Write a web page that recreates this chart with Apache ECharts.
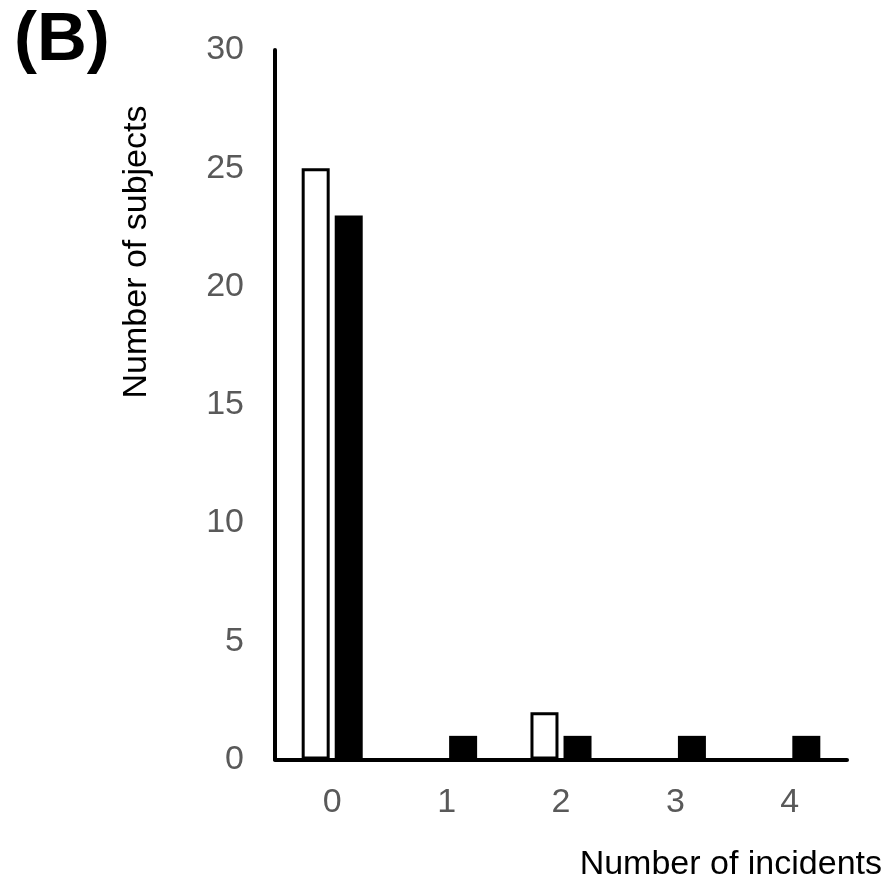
<!DOCTYPE html>
<html>
<head>
<meta charset="utf-8">
<script src="https://cdn.jsdelivr.net/npm/echarts@6/dist/echarts.min.js"></script>
<style>html,body{margin:0;padding:0;background:#fff;}#c{width:893px;height:885px;}</style>
</head>
<body>
<div id="c"></div>
<script>
const categories = ['0', '1', '2', '3', '4'];
const whiteSeries = [25, 0, 2, 0, 0];
const blackSeries = [23, 1, 1, 1, 1];
const yTicks = [0, 5, 10, 15, 20, 25, 30];

const chart = echarts.init(document.getElementById('c'), null, {renderer: 'canvas'});
const FONT = 'Liberation Sans, Arial, sans-serif';
chart.setOption({
  animation: false,
  backgroundColor: '#ffffff',
  grid: {left: 275, right: 46, top: 50, bottom: 125.5, containLabel: false},
  xAxis: {
    type: 'category',
    data: categories,
    axisLine: {show: true, lineStyle: {color: '#000', width: 4}},
    axisTick: {show: false},
    axisLabel: {color: '#595959', fontSize: 34, fontFamily: FONT, margin: 26}
  },
  yAxis: {
    type: 'value',
    min: yTicks[0],
    max: yTicks[yTicks.length - 1],
    interval: 5,
    axisLine: {show: true, lineStyle: {color: '#000', width: 4}},
    axisTick: {show: false},
    splitLine: {show: false},
    axisLabel: {color: '#595959', fontSize: 34, fontFamily: FONT, margin: 31}
  },
  series: [
    {
      type: 'bar',
      data: whiteSeries.map(v => v === 0 ? null : v),
      barWidth: 28,
      barGap: '18%',
      itemStyle: {color: '#ffffff', borderColor: '#000000', borderWidth: 3}
    },
    {
      type: 'bar',
      data: blackSeries,
      barWidth: 28,
      itemStyle: {color: '#000000'}
    }
  ],
  graphic: [
    {type: 'text', left: 14, top: 6, style: {text: '(B)', font: 'bold 69px ' + FONT, fill: '#000'}},
    {type: 'text', x: 137, y: 252, rotation: Math.PI / 2,
     style: {text: 'Number of subjects', font: '34px ' + FONT, fill: '#000', textAlign: 'center', textVerticalAlign: 'middle'}},
    {type: 'text', x: 882, y: 865,
     style: {text: 'Number of incidents', font: '34px ' + FONT, fill: '#000', textAlign: 'right', textVerticalAlign: 'middle'}}
  ]
});
</script>
</body>
</html>
